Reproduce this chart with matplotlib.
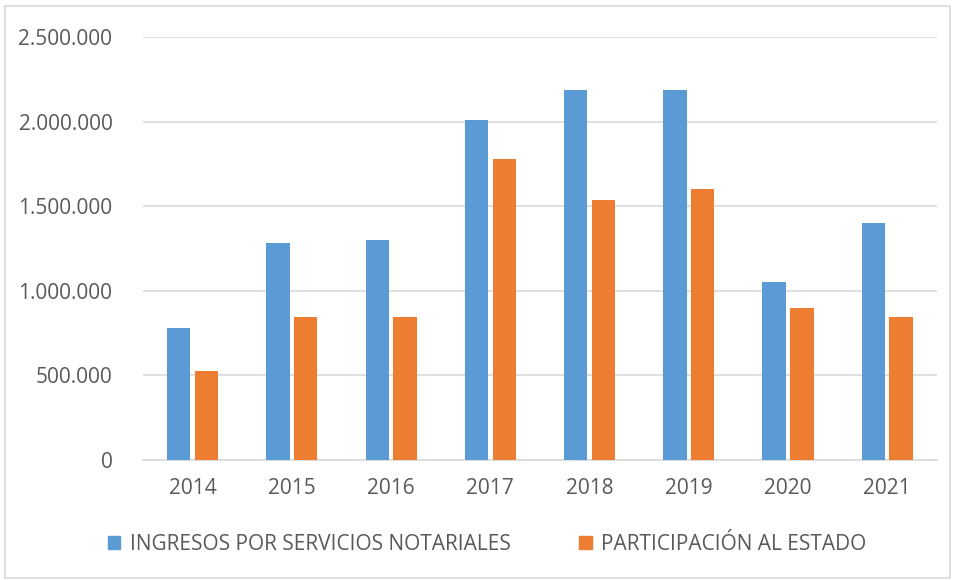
import numpy as np
import matplotlib
matplotlib.use("Agg")
import matplotlib.pyplot as plt
from matplotlib.patches import Patch, Rectangle
from matplotlib.ticker import FuncFormatter

years = ["2014", "2015", "2016", "2017", "2018", "2019", "2020", "2021"]
ingresos = [780000, 1280000, 1300000, 2010000, 2190000, 2190000, 1050000, 1400000]
participacion = [525000, 845000, 845000, 1780000, 1540000, 1600000, 900000, 845000]
series_names = ["INGRESOS POR SERVICIOS NOTARIALES", "PARTICIPACIÓN AL ESTADO"]

BLUE = "#5B9BD5"
ORANGE = "#ED7D31"
TXT = "#595959"
GRID = "#D9D9D9"

plt.rcParams["font.family"] = ["Open Sans", "DejaVu Sans"]

fig = plt.figure(figsize=(9.55, 5.8), dpi=100)
ax = fig.add_axes([0.1497, 0.2069, 0.8313, 0.7291])

x = np.arange(len(years))
w = 0.235
ax.bar(x - 0.14, ingresos, w, color=BLUE, zorder=3)
ax.bar(x + 0.14, participacion, w, color=ORANGE, zorder=3)

ax.set_xlim(-0.5, len(years) - 0.5)
ax.set_ylim(0, 2500000)
ax.set_yticks(np.arange(0, 2500001, 500000))
ax.yaxis.set_major_formatter(FuncFormatter(lambda v, p: f"{int(v):,}".replace(",", ".")))
ax.set_xticks(x)
ax.set_xticklabels(years)
ax.tick_params(axis="both", length=0, labelsize=15, labelcolor=TXT)
ax.tick_params(axis="x", pad=13)
ax.tick_params(axis="y", pad=22)
ax.grid(axis="y", color=GRID, lw=1.2, zorder=0)
for s in ["top", "right", "left"]:
    ax.spines[s].set_visible(False)
ax.spines["bottom"].set_color(GRID)
ax.spines["bottom"].set_linewidth(1.2)

handles = [Patch(color=BLUE), Patch(color=ORANGE)]
fig.legend(handles, series_names, loc="center", bbox_to_anchor=(0.51, 0.062), ncol=2,
           frameon=False, fontsize=15, labelcolor=TXT, handlelength=0.6, handleheight=0.6,
           handletextpad=0.45, columnspacing=3.3)

fig.patches.append(Rectangle((5 / 955, 2 / 580), 945 / 955, 572 / 580, transform=fig.transFigure,
                             fill=False, edgecolor="#D9D9D9", lw=1.2))

fig.savefig("out.png", dpi=100)
